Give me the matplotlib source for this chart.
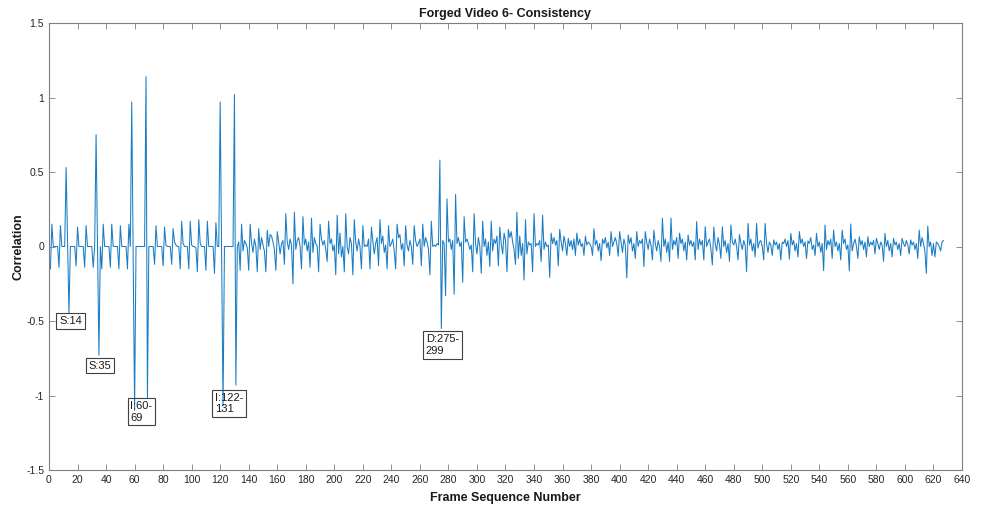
import numpy as np
import matplotlib
matplotlib.use("Agg")
import matplotlib.pyplot as plt

plt.rcParams['font.family'] = ['Liberation Sans', 'DejaVu Sans']

# Correlation consistency per frame, frames 1..627
corr_1_60 = [
    -0.15, 0.15, 0.00, 0.00, 0.00, 0.00,
    -0.14, 0.14, 0.00, 0.00, 0.00, 0.53,
    0.03, -0.45, 0.00, 0.00, 0.00, 0.00,
    -0.13, 0.13, 0.00, 0.00, 0.00, 0.00,
    -0.14, 0.14, 0.00, 0.00, 0.00, 0.00,
    -0.14, 0.00, 0.75, 0.01, -0.73, 0.00,
    -0.15, 0.15, 0.00, 0.00, 0.00, 0.00,
    -0.14, 0.15, 0.00, 0.00, 0.00, 0.00,
    -0.15, 0.14, 0.00, 0.00, 0.00, 0.00,
    -0.15, 0.15, 0.00, 0.97, -0.04, -1.10,
]
corr_61_69 = [0.00, 0.00, 0.00, 0.00, 0.00, 0.00, 0.00, 1.14, -1.02]
corr_70_131 = [
    0.00, 0.00, 0.00, 0.00, -0.12, 0.14,
    0.00, 0.00, 0.00, 0.00, -0.13, 0.13,
    0.01, 0.00, 0.00, 0.00, -0.12, 0.12,
    0.03, 0.01, 0.00, 0.00, -0.15, 0.17,
    0.02, 0.00, 0.00, 0.00, -0.15, 0.17,
    0.01, 0.00, 0.00, -0.01, -0.17, 0.18,
    0.02, 0.00, 0.00, 0.00, -0.16, 0.17,
    0.00, 0.00, 0.00, 0.00, -0.18, 0.16,
    0.00, 0.00, 0.97, -0.02, -1.07,
    0.00, 0.00, 0.00, 0.00, 0.00, 0.00, 0.00,
    1.02, -0.93,
]
corr_132_272 = [
    0.00, 0.03,
    -0.16, 0.15, -0.03, 0.04, 0.02, -0.01,
    -0.16, 0.15, 0.02, -0.04, 0.05, 0.00,
    -0.17, 0.12, -0.02, 0.06, 0.01, -0.03,
    -0.17, 0.11, 0.00, 0.08, 0.07, 0.03, -0.02,
    -0.16, 0.10, 0.03, -0.05, 0.02, 0.04,
    -0.12, 0.22, 0.03, -0.02, 0.05, 0.01,
    -0.25, 0.23, -0.02, 0.04, 0.06, 0.00,
    -0.15, 0.20, 0.01, 0.05, -0.03, 0.03,
    -0.14, 0.19, -0.04, 0.06, 0.02, 0.00,
    -0.17, 0.15, 0.05, 0.01, 0.04, -0.02,
    -0.10, 0.17, 0.02, 0.05, -0.03, 0.01,
    -0.19, 0.21, -0.05, 0.09, -0.07, 0.00,
    -0.17, 0.22, 0.00, -0.05, 0.06, 0.02,
    -0.19, 0.18, 0.03, -0.03, 0.05, 0.00,
    -0.15, 0.14, 0.00, 0.01, 0.00, 0.05,
    -0.15, 0.13, 0.04, -0.05, 0.02, 0.06,
    -0.13, 0.18, 0.02, 0.07, -0.04, 0.01,
    -0.15, 0.14, 0.00, 0.02, 0.05, -0.03,
    -0.15, 0.15, 0.06, 0.08, -0.02, 0.02,
    -0.13, 0.14, 0.01, -0.03, 0.04, 0.00,
    -0.12, 0.14, 0.04, 0.00, 0.02, 0.05,
    -0.13, 0.15, 0.00, 0.06, 0.03, -0.02,
    -0.19, 0.17, 0.00, 0.01, 0.00, 0.02,
]
corr_273_298 = [
    0.01, 0.58, -0.55, 0.04, 0.02,
    -0.33, 0.32, 0.03, 0.05, -0.02, 0.04,
    -0.32, 0.35, 0.02, 0.06, 0.00, 0.03,
    -0.24, 0.20, 0.03, 0.05, 0.02, -0.02, 0.01,
    -0.17, 0.22,
]
corr_299_400 = [
    0.02, -0.05, 0.06, 0.00,
    -0.18, 0.17, 0.00, 0.05, -0.06, 0.03,
    -0.135, 0.17, -0.03, 0.05, 0.02, 0.07,
    -0.13, 0.13, 0.02, -0.05, 0.09, 0.04,
    -0.17, 0.115, 0.06, 0.10, 0.03, -0.02,
    -0.12, 0.23, -0.08, 0.07, -0.06, 0.02,
    -0.225, 0.18, -0.05, 0.03, 0.01, 0.02,
    -0.17, 0.22, 0.00, 0.02, 0.01, 0.04,
    -0.10, 0.21, -0.02, 0.03, 0.00, 0.01,
    -0.207, 0.09, 0.02, 0.06, 0.01, 0.04,
    -0.13, 0.115, 0.03, -0.03, 0.07, 0.02,
    -0.06, 0.055, 0.00, 0.04, -0.02, 0.05,
    -0.06, 0.09, 0.01, 0.05, 0.00, 0.02,
    -0.06, 0.07, 0.01, 0.03, 0.02, 0.00,
    -0.06, 0.12, 0.01, 0.04, -0.03, 0.02,
    -0.095, 0.05, 0.02, 0.06, -0.01, 0.03,
    -0.06, 0.10, 0.00, 0.03, 0.06, 0.02,
    -0.065, 0.10,
]
corr_401_627 = [
    0.03, -0.04, 0.05, 0.01,
    -0.21, 0.077, 0.02, 0.06, -0.03, 0.02,
    -0.08, 0.10, 0.00, 0.04, 0.02, 0.05,
    -0.135, 0.10, 0.03, -0.02, 0.05, 0.01,
    -0.09, 0.11, 0.02, -0.03, 0.04, 0.00,
    -0.10, 0.19, 0.00, 0.05, -0.04, 0.03,
    -0.10, 0.19, -0.02, 0.04, 0.01, 0.06,
    -0.08, 0.09, 0.02, 0.05, -0.03, 0.03,
    -0.09, 0.077, 0.01, 0.04, 0.00, 0.03,
    -0.09, 0.167, -0.02, 0.05, 0.01, 0.04,
    -0.09, 0.133, 0.00, 0.03, 0.05, -0.02,
    -0.124, 0.13, 0.02, -0.03, 0.06, 0.01,
    -0.08, 0.133, 0.00, 0.04, -0.04, 0.02,
    -0.10, 0.145, 0.03, 0.01, 0.05, 0.00,
    -0.09, 0.08, 0.02, -0.02, 0.04, 0.01,
    -0.17, 0.155, 0.01, 0.05, -0.03, 0.02,
    -0.07, 0.155, -0.01, 0.03, 0.04, 0.00,
    -0.09, 0.155, 0.02, -0.04, 0.03, 0.01,
    -0.06, 0.044, 0.01, 0.03, -0.02, 0.02,
    -0.09, 0.03, 0.02, 0.05, 0.00, 0.04,
    -0.085, 0.088, 0.01, 0.04, -0.03, 0.02,
    -0.07, 0.10, 0.02, 0.05, 0.00, 0.03,
    -0.08, 0.037, 0.02, 0.06, -0.02, 0.01,
    -0.06, 0.088, 0.00, 0.03, -0.04, 0.02,
    -0.162, 0.144, -0.02, 0.04, 0.01, 0.05,
    -0.08, 0.11, 0.00, 0.03, -0.03, 0.02,
    -0.09, 0.11, 0.02, 0.05, -0.02, 0.01,
    -0.162, 0.151, -0.03, 0.02, 0.05, 0.00,
    -0.08, 0.066, 0.01, 0.04, -0.02, 0.03,
    -0.07, 0.066, 0.00, 0.03, 0.01, 0.04,
    -0.05, 0.055, 0.02, -0.02, 0.03, 0.01,
    -0.10, 0.088, 0.00, 0.04, -0.03, 0.02,
    -0.07, 0.055, 0.01, 0.03, -0.02, 0.02,
    -0.06, 0.055, 0.02, 0.00, 0.04, 0.01,
    -0.05, 0.044, 0.01, 0.03, -0.02, 0.02,
    -0.08, 0.11, 0.00, 0.06, 0.02, -0.03,
    -0.18, 0.137, 0.00, 0.03, -0.06, 0.02,
    -0.07, 0.03, 0.02, 0.00, -0.03, 0.03, 0.04,
]

corr = np.array(corr_1_60 + corr_61_69 + corr_70_131 + corr_132_272
                + corr_273_298 + corr_299_400 + corr_401_627)
frames = np.arange(1, len(corr) + 1)

# Tamper annotations: label text and anchor (frame, correlation)
note_texts = ["S:14", "S:35", "I:60-\n69", "I:122-\n131", "D:275-\n299"]
note_x = [15.1, 35.7, 64.8, 126.2, 275.8]
note_y = [-0.50, -0.80, -1.11, -1.054, -0.661]

x_ticks = np.arange(0, 641, 20)
y_ticks = [-1.5, -1.0, -0.5, 0.0, 0.5, 1.0, 1.5]
y_tick_labels = ["-1.5", "-1", "-0.5", "0", "0.5", "1", "1.5"]

fig = plt.figure(figsize=(9.87, 5.09), dpi=100)
ax = fig.add_axes([49 / 987, 1 - 470 / 509, (962 - 49) / 987, (470 - 23) / 509])

ax.plot(frames, corr, color="#1a7cc4", linewidth=0.75)

ax.set_xlim(0, 640)
ax.set_ylim(-1.5, 1.5)
ax.set_xticks(x_ticks)
ax.set_xticklabels([str(v) for v in x_ticks])
ax.set_yticks(y_ticks)
ax.set_yticklabels(y_tick_labels)

axis_grey = "#7f7f7f"
for side in ax.spines.values():
    side.set_color(axis_grey)
    side.set_linewidth(0.8)
ax.tick_params(direction="in", length=4, width=0.6, colors=axis_grey,
               labelcolor="#262626", labelsize=7.5, top=True, right=True)

ax.set_title("Forged Video 6- Consistency", fontsize=9, fontweight="bold",
             color="#1a1a1a", pad=4)
ax.set_xlabel("Frame Sequence Number", fontsize=9, fontweight="bold",
              color="#1a1a1a", labelpad=5)
ax.set_ylabel("Correlation", fontsize=9, fontweight="bold", color="#1a1a1a",
              labelpad=1)

for txt, nx, ny in zip(note_texts, note_x, note_y):
    ax.text(nx, ny, txt, fontsize=8, color="#1a1a1a", ha="center", va="center",
            multialignment="left",
            bbox=dict(boxstyle="square,pad=0.25", fc="none", ec="#404040", lw=0.8))

fig.savefig("out.png", dpi=100)
